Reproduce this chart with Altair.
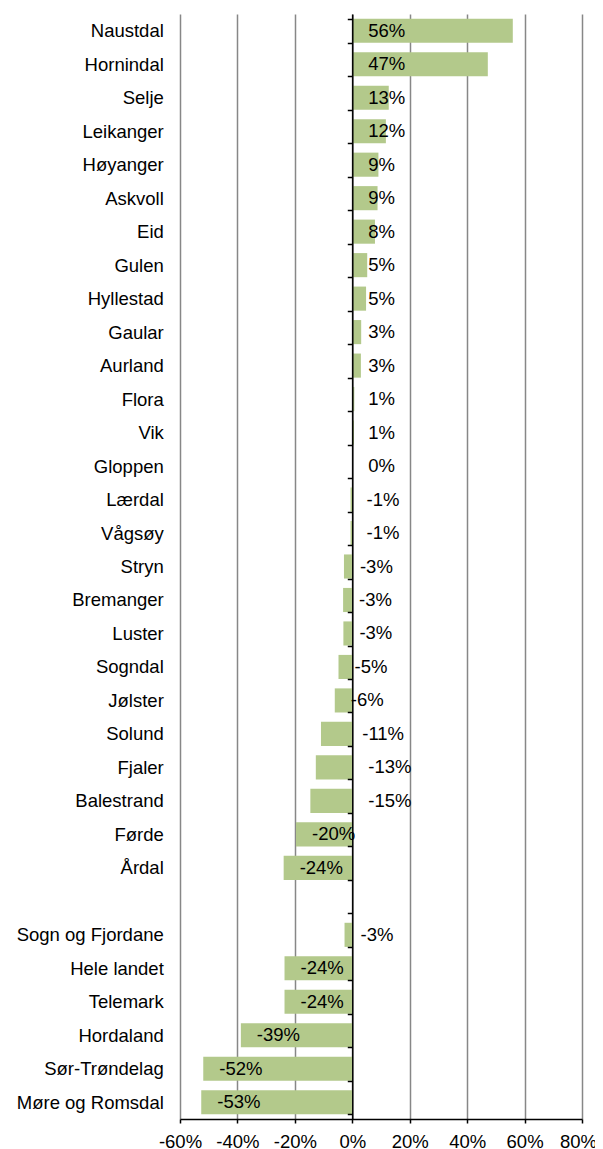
import altair as alt
import pandas as pd

categories = ["Naustdal", "Hornindal", "Selje", "Leikanger", "Høyanger", "Askvoll", "Eid",
              "Gulen", "Hyllestad", "Gaular", "Aurland", "Flora", "Vik", "Gloppen", "Lærdal",
              "Vågsøy", "Stryn", "Bremanger", "Luster", "Sogndal", "Jølster", "Solund", "Fjaler",
              "Balestrand", "Førde", "Årdal", " ", "Sogn og Fjordane", "Hele landet", "Telemark",
              "Hordaland", "Sør-Trøndelag", "Møre og Romsdal"]
values = [55.9, 47.2, 12.7, 11.7, 9.1, 8.8, 7.9,
          5.2, 4.8, 3.1, 3.0, 0.7, 0.6, 0.0, -0.6,
          -0.6, -2.9, -3.2, -3.1, -4.8, -6.1, -10.9, -12.7,
          -14.6, -19.6, -23.9, None, -2.7, -23.6, -23.6,
          -38.8, -51.9, -52.6]
# labels that were moved by hand in the original (anchor in % units)
label_anchor_override = {"Solund": -2.1, "Fjaler": 0.0, "Balestrand": 0.0}
x_ticks = [-60, -40, -20, 0, 20, 40, 60, 80]

rows = []
for c, v in zip(categories, values):
    if v is None:
        continue
    anchor = label_anchor_override.get(c, min(v, 0.0))
    rows.append({"cat": c, "value": v, "label": f"{round(v)}%", "label_x": anchor})
df = pd.DataFrame(rows)

W = 402
H = 1105
zero_px = W * 60 / 140
FONT = "Liberation Sans"
FS = 18.5

xscale = alt.Scale(domain=[-60, 80], nice=False)
yscale = alt.Scale(domain=categories, paddingInner=0.28, paddingOuter=0.14)

xaxis = alt.Axis(values=x_ticks, labelExpr="datum.value + '%'", title=None,
                 grid=True, gridColor="#878787", gridWidth=1.5,
                 domainColor="black", domainWidth=1.5,
                 tickColor="black", tickSize=4, tickWidth=1.5,
                 labelPadding=9, labelFontSize=FS, labelFont=FONT,
                 labelColor="black", labelOverlap=False, labelFlush=False,
                 labelOffset={"condition": {"test": "datum.value == 80", "value": -4}, "value": 0},
                 zindex=0)
yaxis = alt.Axis(title=None, orient="left", offset=-zero_px,
                 domainColor="black", domainWidth=1.5,
                 tickColor="black", tickSize=5, tickWidth=1.5,
                 tickBand="extent", labelPadding=184,
                 labelFont=FONT, labelFontSize=FS, labelColor="black",
                 labelOverlap=False, grid=False, zindex=1)

bars = alt.Chart(df).mark_bar(color="#B3C98B").encode(
    x=alt.X("value:Q", scale=xscale, axis=xaxis),
    y=alt.Y("cat:N", scale=yscale, axis=yaxis),
)

text = alt.Chart(df).mark_text(align="left", baseline="middle", dx=16,
                               fontSize=FS, font=FONT, color="black").encode(
    x=alt.X("label_x:Q", scale=xscale, axis=xaxis),
    y=alt.Y("cat:N", scale=yscale, axis=yaxis),
    text="label:N",
)

chart = alt.layer(bars, text).properties(
    width=W, height=H,
    autosize=alt.AutoSizeParams(type="none"),
    padding={"left": 172, "top": 6, "right": 13, "bottom": 30},
).configure_view(stroke=None)

chart.save("out.html", embed_options={"renderer": "svg", "actions": False})
